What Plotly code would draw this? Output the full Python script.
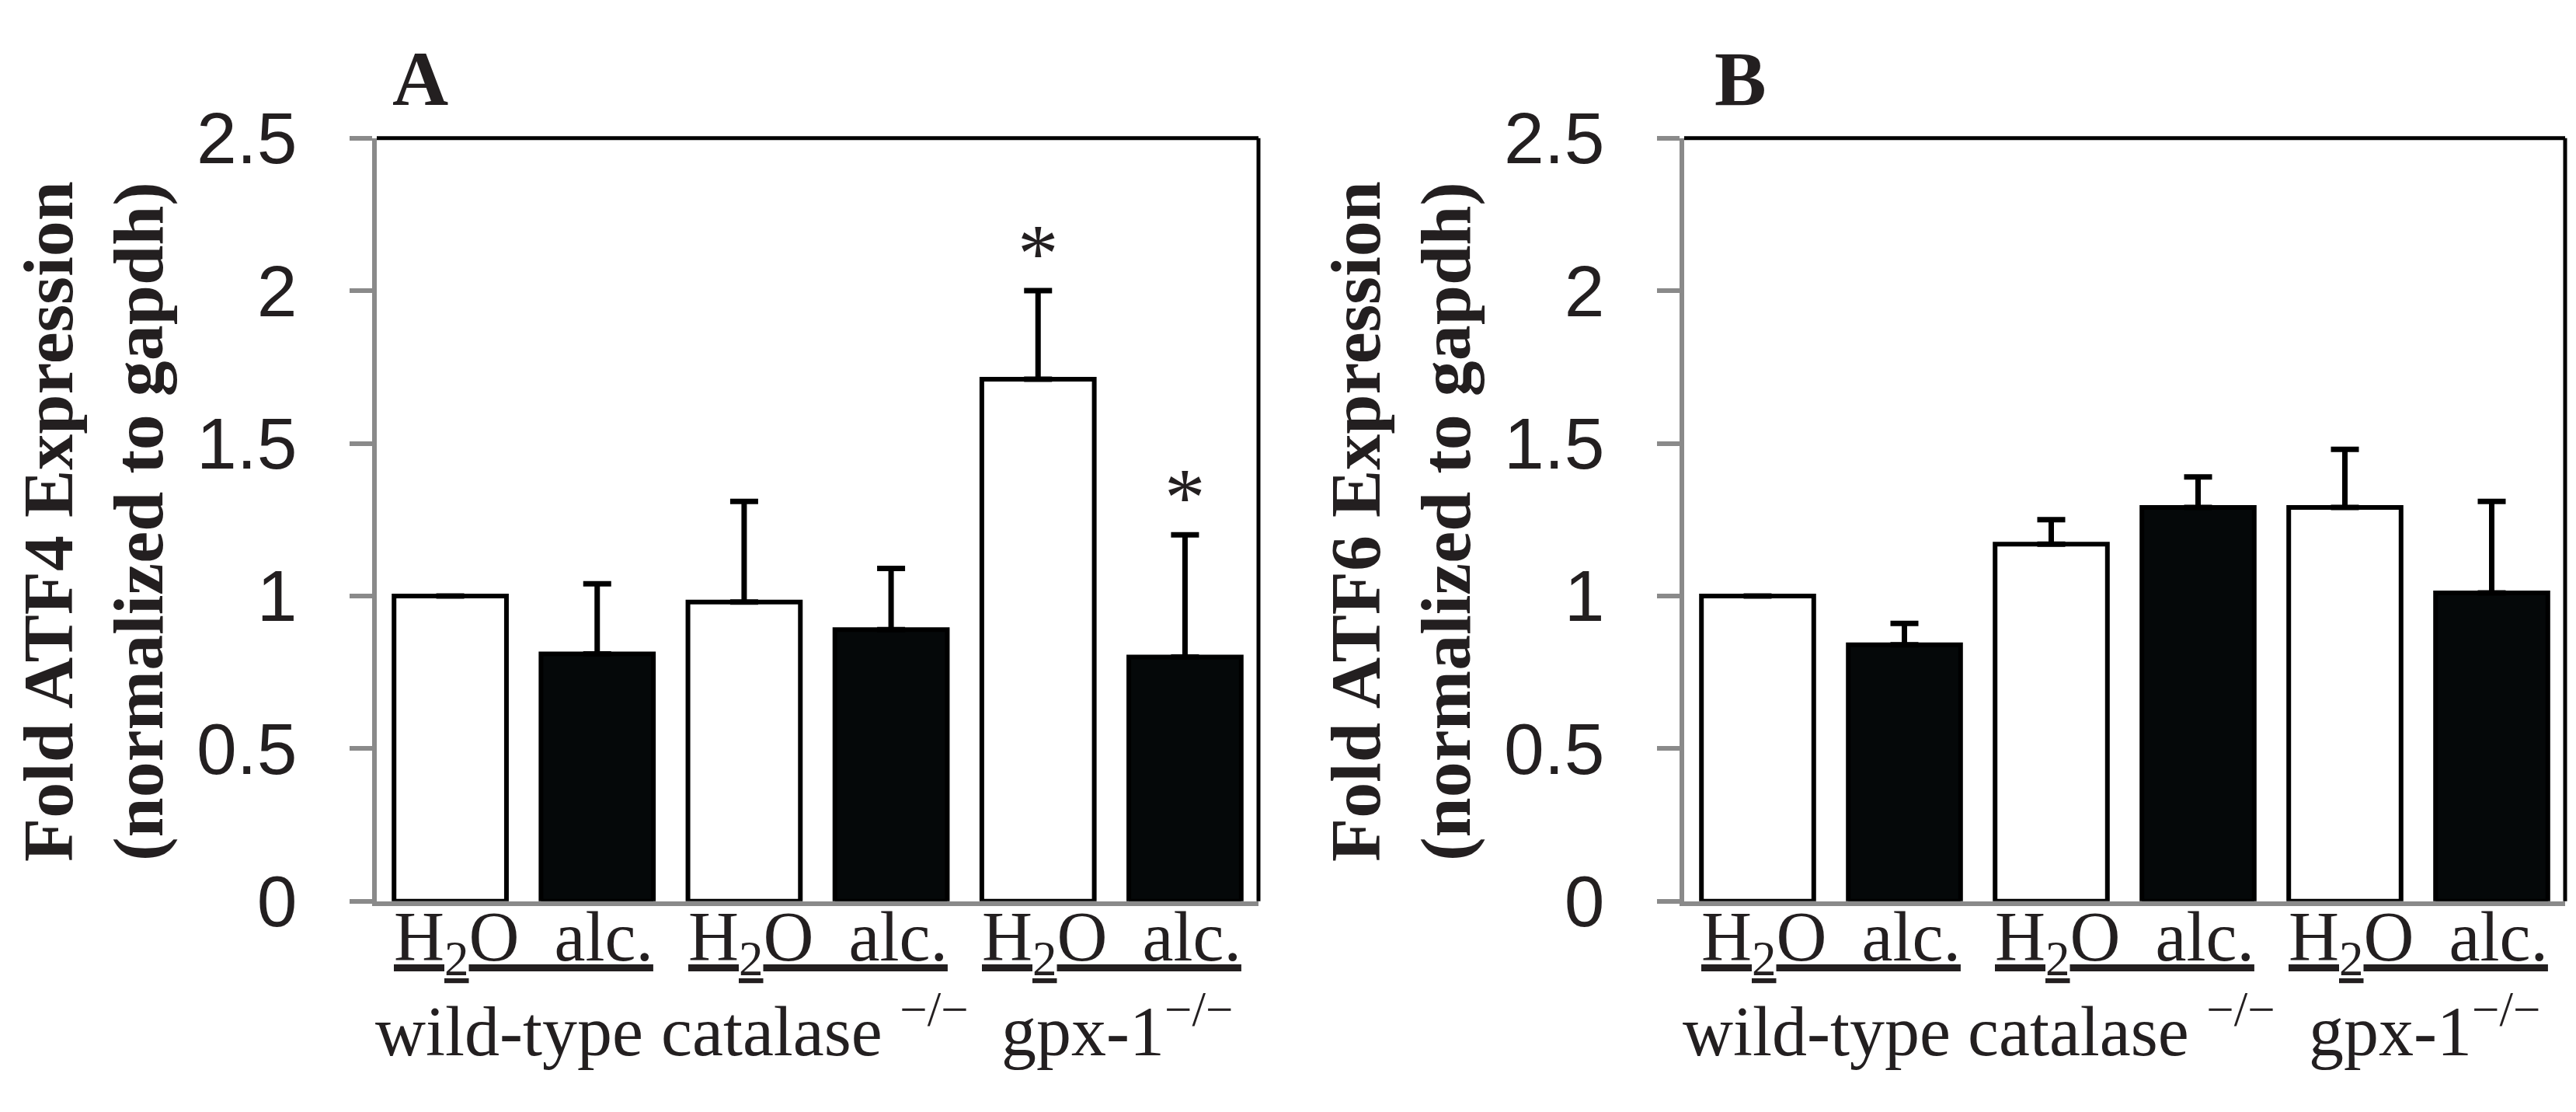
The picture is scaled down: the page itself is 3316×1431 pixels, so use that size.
import plotly.graph_objects as go

W, H = 3316, 1431

# ---------------- data ----------------
groups = ["wild-type", "catalase <sup>\u2212/\u2212</sup>", "gpx-1<sup>\u2212/\u2212</sup>"]
treatments = ["H2O", "alc.", "H2O", "alc.", "H2O", "alc."]
treat_row = "<u>H<sub>2</sub>O\u00a0\u00a0alc.</u>"

atf4_mean = [1.00, 0.81, 0.98, 0.89, 1.71, 0.80]
atf4_err = [0.00, 0.23, 0.33, 0.20, 0.29, 0.40]
atf4_sig = ["", "", "", "", "*", "*"]

atf6_mean = [1.00, 0.84, 1.17, 1.29, 1.29, 1.01]
atf6_err = [0.00, 0.07, 0.08, 0.10, 0.19, 0.30]
atf6_sig = ["", "", "", "", "", ""]

y_tickvals = [0, 0.5, 1, 1.5, 2, 2.5]
y_ticktext = ["0", "0.5", "1", "1.5", "2", "2.5"]

panel_letters = ["A", "B"]
y_title_line1 = ["Fold ATF4 Expression", "Fold ATF6 Expression"]
y_title_line2 = ["(normalized to gapdh)", "(normalized to gapdh)"]

# ---------------- style ----------------
SERIF = "Liberation Serif, Times New Roman, serif"
SANS = "Liberation Sans, Arial, sans-serif"
TXT = "#231f20"
GRAY = "#8a8a8a"
BLACK = "#050809"
fill_for = {"H2O": "white", "alc.": BLACK}
group_label_xshift = [-19, -4, 8]


def fx(px):
    return px / W


def fy(py):
    return 1 - py / H


x_domains = [[fx(477), fx(1612)], [fx(2160), fx(3294)]]
y_domain = [fy(1187), fy(128)]
title_offsets = [0, 1683]

fig = go.Figure()

panels = [(atf4_mean, atf4_err, atf4_sig), (atf6_mean, atf6_err, atf6_sig)]
annotations = []
shapes = []

for p, (mean, err, sig) in enumerate(panels):
    xa = "x" if p == 0 else "x2"
    ya = "y" if p == 0 else "y2"
    xs = list(range(len(mean)))
    fig.add_trace(go.Bar(
        x=xs, y=mean, xaxis=xa, yaxis=ya,
        width=0.765,
        marker=dict(color=[fill_for[t] for t in treatments],
                    line=dict(color="black", width=6)),
        error_y=dict(type="data", array=err, arrayminus=[0] * len(err),
                     symmetric=False, thickness=7, width=18, color="black"),
        showlegend=False, hoverinfo="skip",
    ))

    axis_x = dict(domain=x_domains[p], range=[-0.5, len(mean) - 0.5],
                  showline=True, linecolor=GRAY, linewidth=6,
                  ticks="", showticklabels=False, showgrid=False,
                  zeroline=False, fixedrange=True,
                  anchor=ya)
    axis_y = dict(domain=y_domain, range=[0, 2.5],
                  showline=True, linecolor=GRAY, linewidth=6,
                  ticks="outside", ticklen=29, tickwidth=6, tickcolor=GRAY,
                  tickvals=y_tickvals, ticktext=y_ticktext,
                  tickfont=dict(family=SANS, size=93, color=TXT),
                  ticklabelstandoff=49,
                  showgrid=False, zeroline=False, fixedrange=True,
                  anchor=xa)
    if p == 0:
        fig.update_layout(xaxis=axis_x, yaxis=axis_y)
    else:
        fig.update_layout(xaxis2=axis_x, yaxis2=axis_y)

    # top and right black frame
    shapes.append(dict(type="line", xref=f"{xa} domain", yref=f"{ya} domain",
                       x0=0, x1=1, y0=1, y1=1, line=dict(color="black", width=5)))
    shapes.append(dict(type="line", xref=f"{xa} domain", yref=f"{ya} domain",
                       x0=1, x1=1, y0=0, y1=1, line=dict(color="black", width=5)))

    # significance marks
    for i, s in enumerate(sig):
        if s:
            annotations.append(dict(
                x=xs[i], y=mean[i] + err[i], xref=xa, yref=ya,
                text=s, showarrow=False, xanchor="center", yanchor="bottom",
                yshift=-13, font=dict(family=SERIF, size=105, color=TXT)))

    # group labels
    for g, name in enumerate(groups):
        cx = (xs[2 * g] + xs[2 * g + 1]) / 2
        annotations.append(dict(
            x=cx, y=fy(1181), xref=xa, yref="paper", text=treat_row,
            showarrow=False, xanchor="center", yanchor="top",
            font=dict(family=SERIF, size=90, color=TXT)))
        annotations.append(dict(
            x=cx, y=fy(1423), xref=xa, yref="paper", text=name,
            showarrow=False, xanchor="center", yanchor="bottom",
            xshift=group_label_xshift[g],
            font=dict(family=SERIF, size=90, color=TXT)))

    # y titles (two lines)
    off = title_offsets[p]
    annotations.append(dict(
        x=fx(54 + off), y=fy(660), xref="paper", yref="paper",
        text=f"<b>{y_title_line1[p]}</b>", textangle=-90, showarrow=False,
        xanchor="center", yanchor="middle",
        font=dict(family=SERIF, size=92, color=TXT)))
    annotations.append(dict(
        x=fx(170 + off), y=fy(660), xref="paper", yref="paper",
        text=f"<b>{y_title_line2[p]}</b>", textangle=-90, showarrow=False,
        xanchor="center", yanchor="middle",
        font=dict(family=SERIF, size=92, color=TXT)))

    # panel letter
    annotations.append(dict(
        x=fx(533 + off + (16 if p else 0)), y=fy(46), xref="paper", yref="paper",
        text=f"<b>{panel_letters[p]}</b>", showarrow=False,
        xanchor="center", yanchor="middle",
        font=dict(family=SERIF, size=100, color=TXT)))

fig.update_layout(
    width=W, height=H,
    margin=dict(l=0, r=0, t=0, b=0, pad=0),
    paper_bgcolor="white", plot_bgcolor="white",
    annotations=annotations, shapes=shapes,
    bargap=0.2,
)

fig.write_html("out.html")
